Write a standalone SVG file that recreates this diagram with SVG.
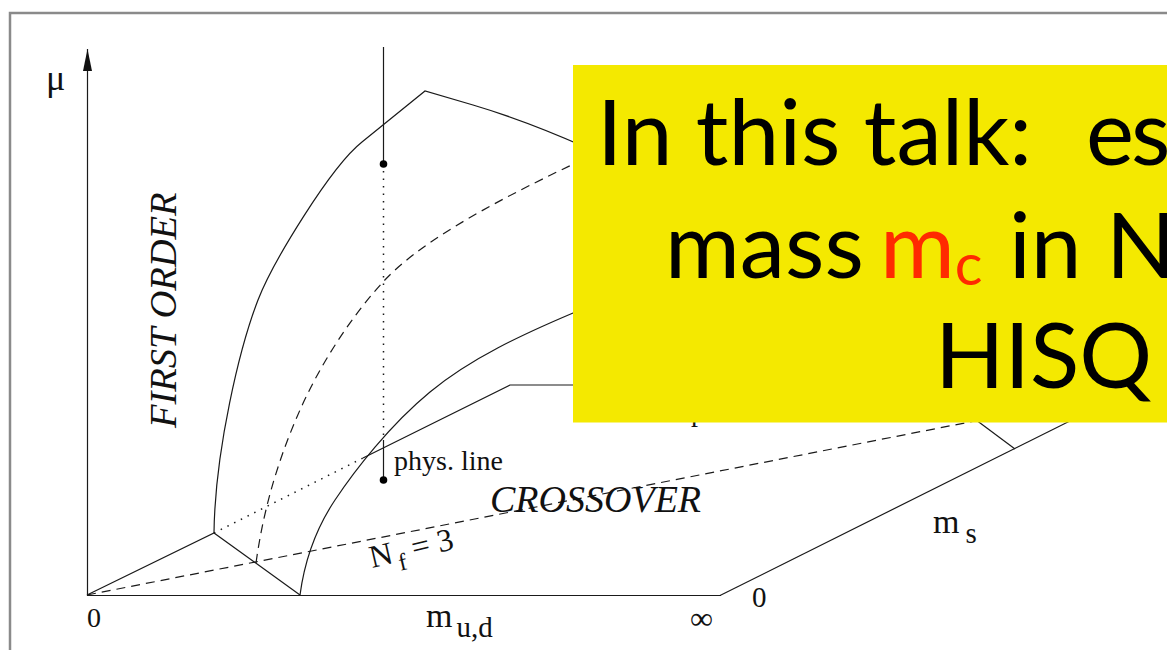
<svg xmlns="http://www.w3.org/2000/svg" width="1167" height="650" viewBox="0 0 1167 650">
<style>
.ln{fill:none;stroke:#1a1a1a;stroke-width:1.2}
.dash{fill:none;stroke:#1a1a1a;stroke-width:1.2;stroke-dasharray:9 6}
.dot{fill:none;stroke:#1a1a1a;stroke-width:1.5;stroke-dasharray:1.5 6;stroke-linecap:butt}
.ser{font-family:"Liberation Serif","Times New Roman",serif;fill:#111}
.it{font-style:italic}
.big{font-family:Lato,"Noto Sans",sans-serif;font-size:91px;fill:#000}
</style>
<defs>
<marker id="arr" viewBox="0 0 22 10" refX="22" refY="5" markerWidth="22" markerHeight="10" markerUnits="userSpaceOnUse" orient="auto">
<path d="M22,5 L0,0.5 L0,9.5 Z" fill="#111"/>
</marker>
</defs>
<rect width="1167" height="650" fill="#fff"/>
<g id="frame"><rect x="10" y="13" width="1200" height="700" fill="none" stroke="#8a8a8a" stroke-width="2.5"/></g>
<g id="axes">
<line class="ln" x1="87.5" y1="596" x2="87.5" y2="49" marker-end="url(#arr)"/>
<line class="ln" x1="87" y1="595.5" x2="721" y2="595.5" stroke-width="1.4"/>
<line class="ln" x1="720" y1="595.5" x2="1100" y2="406"/>
</g>
<g id="connectors">
<path class="ln" d="M87,595 L214,533 L300,595"/>
<path class="dot" d="M214,533 L363,458"/>
<path class="ln" d="M363,458 L510,385 L600,385"/>
<path class="dash" d="M87,595 L985,419"/>
<path class="ln" d="M1015,449 L960,408"/>
<path class="ln" d="M214,533 C215,450 240,346.5 258,300 C272.4,262.8 330.6,166.8 362,142 L425,91 L473,105 C500,113 540,127 585,147"/>
<path class="dash" d="M256,563 C264,505 280,455 300,410 C320,365 350,318 383,282 C416,246 480,208 580,161"/>
<path class="ln" d="M300,595 C304,565 315,530 335,500 C355,470 390,425 430,392 C470,359 520,335 585,308"/>
</g>
<g id="phys-line">
<line class="ln" x1="383.5" y1="47" x2="383.5" y2="164"/>
<circle cx="383.5" cy="164" r="3.8" fill="#000"/>
<line class="dot" x1="383.5" y1="171" x2="383.5" y2="438"/>
<line class="ln" x1="383.5" y1="440" x2="383.5" y2="480"/>
<circle cx="383.5" cy="480" r="3.8" fill="#000"/>
<text class="ser" x="394" y="470" font-size="28">phys. line</text>
</g>
<g id="labels">
<text class="ser" x="46" y="90" font-size="36">μ</text>
<text class="ser" x="87" y="627" font-size="28">0</text>
<text class="ser" x="426" y="627" font-size="34">m<tspan font-size="29" dx="4" dy="10">u,d</tspan></text>
<text class="ser" x="690" y="629" font-size="32">∞</text>
<text class="ser" x="752" y="607" font-size="29">0</text>
<text class="ser" x="933" y="533" font-size="34">m<tspan font-size="29" dx="6" dy="10">s</tspan></text>
<text class="ser it" transform="translate(176,428) rotate(-90)" font-size="38.5">FIRST ORDER</text>
<text class="ser it" x="490" y="512" font-size="38">CROSSOVER</text>
<text class="ser" transform="translate(372,568) rotate(-13)" font-size="32">N<tspan font-size="24" dx="4" dy="9">f</tspan><tspan dy="-9"> = 3</tspan></text>
<text class="ser" x="691" y="421" font-size="28">p</text>
</g>
<g id="note-box">
<rect x="573" y="65" width="620" height="357.5" fill="#f4e900"/>
<text class="big" x="597" y="165">In this talk:<tspan x="1086" letter-spacing="-3">es</tspan></text>
<text class="big" x="665" y="278">mass<tspan x="880" fill="#ff2a00">m</tspan><tspan fill="#ff2a00" font-size="58" dy="7">c</tspan><tspan x="1009" dy="-7">in</tspan><tspan x="1106">N</tspan></text>
<text class="big" x="935" y="388">HISQ</text>
</g>
</svg>
